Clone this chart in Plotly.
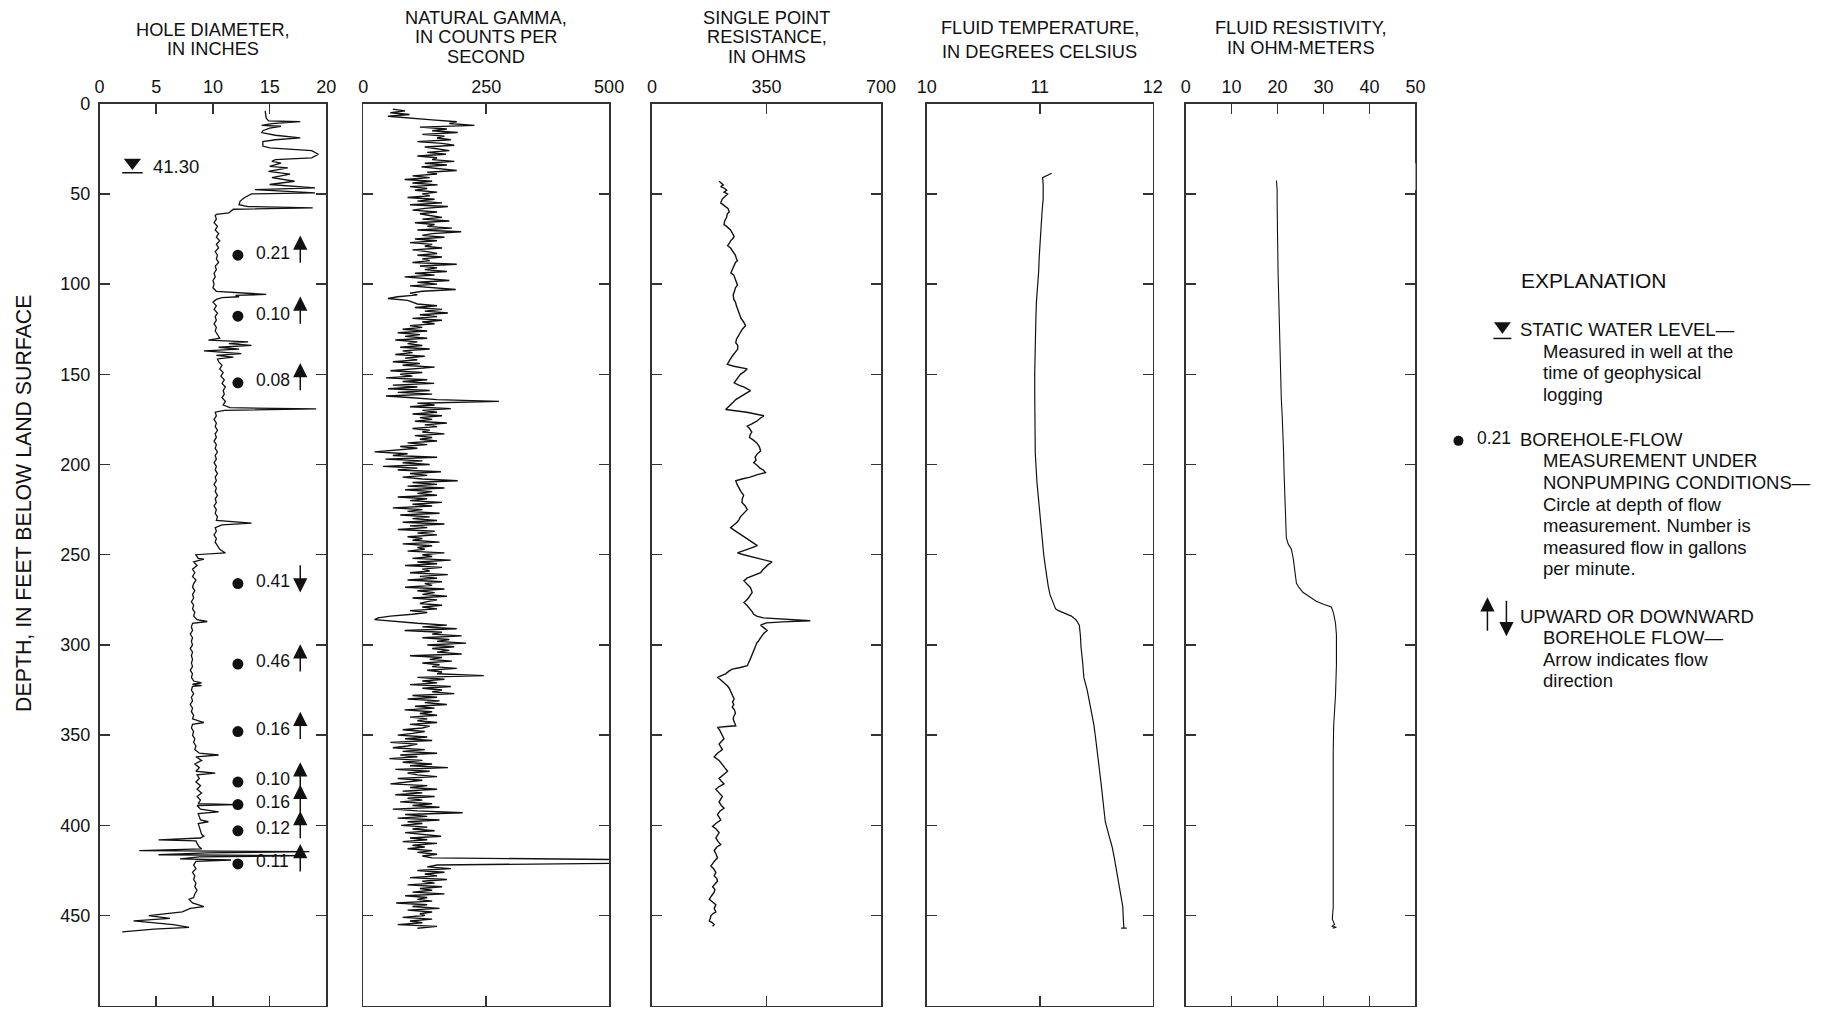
import plotly.graph_objects as go

# ------------------------------------------------------------------ data
depth_ticks = [0, 50, 100, 150, 200, 250, 300, 350, 400, 450, 500]

# (depth ft, hole diameter in)
hole_diameter_log = [
    (4, 14.6), (8, 14.7), (9.5, 14.9), (10, 17.7), (11, 15.2), (12, 14.3), (12.5, 16.0), (13.5, 15.0), (15, 14.4), (16, 14.3),
    (17.5, 15.5), (19, 17.7), (20, 15.5), (21, 14.4), (23.5, 14.4), (24.5, 15.0), (26, 18.7), (28, 19.3), (30, 18.7), (31, 15.5),
    (32, 15.2), (33, 16.0), (34.7, 15.0), (35.6, 16.6), (37.5, 14.9), (39, 16.8), (41, 15.2), (43, 17.2), (44.8, 15.0), (46.7, 19.0),
    (47.6, 13.7), (49.4, 19.0), (50, 13.4), (52, 12.8), (54, 12.4), (56, 12.3), (57, 13.1), (57.7, 18.8), (58.5, 11.8), (60.5, 11.4),
    (61.4, 10.3), (62, 10.2), (64, 10.3), (66, 10.1), (68, 10.4), (70, 10.2), (72, 10.5), (74, 10.3), (76, 10.6), (78, 10.3),
    (80, 10.5), (82, 10.2), (84, 10.4), (86, 10.3), (88, 10.5), (90, 10.2), (92, 10.3), (94, 10.1), (96, 10.2), (98, 10.0),
    (100, 10.1), (102, 10.0), (104, 10.3), (105.3, 13.5), (105.7, 14.7), (106.3, 12.0), (107, 12.3), (107.5, 10.8), (108.5, 10.3), (110, 10.0),
    (112, 10.3), (114, 10.1), (116, 10.4), (118, 10.2), (120, 10.3), (122, 10.1), (124, 10.3), (126, 10.2), (128, 10.4), (130, 10.6),
    (131, 9.6), (132, 13.1), (133, 11.4), (134, 13.4), (135, 10.5), (136, 12.3), (137, 9.2), (137.8, 10.8), (138.5, 12.5), (139.5, 10.3),
    (140.5, 11.8), (141.5, 10.4), (143, 10.5), (145, 10.8), (147, 10.6), (149, 10.9), (151, 10.7), (153, 11.0), (155, 10.8), (157, 11.1),
    (159, 10.9), (161, 11.0), (163, 10.8), (165, 11.1), (167, 10.9), (168.5, 11.5), (169.2, 19.1), (170, 11.0), (171, 10.2), (173, 10.3),
    (175, 10.1), (177, 10.3), (179, 10.2), (181, 10.4), (183, 10.2), (185, 10.3), (187, 10.1), (189, 10.3), (191, 10.2), (193, 10.4),
    (195, 10.2), (197, 10.3), (199, 10.1), (201, 10.3), (203, 10.2), (205, 10.4), (207, 10.2), (209, 10.3), (211, 10.1), (213, 10.3),
    (215, 10.2), (217, 10.4), (219, 10.2), (221, 10.3), (223, 10.1), (225, 10.3), (227, 10.2), (229, 10.4), (231, 10.3), (232.5, 13.4),
    (233.5, 10.8), (235, 10.2), (237, 10.3), (239, 10.1), (241, 10.3), (243, 10.2), (245, 10.4), (247, 10.6), (249, 11.1), (250, 8.5),
    (252, 8.7), (252.5, 9.2), (254, 8.3), (256, 8.6), (258, 8.2), (260, 8.4), (262, 8.2), (264, 8.5), (266, 8.3), (268, 8.2),
    (270, 8.4), (272, 8.2), (274, 8.3), (276, 8.1), (278, 8.3), (280, 8.2), (282, 8.4), (284, 8.3), (286, 8.6), (287, 9.5),
    (288, 8.2), (290, 8.1), (292, 8.2), (294, 8.0), (296, 8.2), (298, 8.1), (300, 8.2), (302, 8.0), (304, 8.2), (306, 8.1),
    (308, 8.2), (310, 8.1), (312, 8.2), (314, 8.0), (316, 8.2), (318, 8.1), (320, 8.3), (321, 9.0), (321.8, 8.2), (322.5, 9.0),
    (323, 8.2), (325, 8.1), (327, 8.3), (329, 8.1), (331, 8.2), (333, 8.0), (335, 8.2), (337, 8.1), (339, 8.3), (341, 8.2),
    (343, 9.2), (344, 8.2), (346, 8.1), (348, 8.3), (350, 8.2), (352, 8.4), (354, 8.3), (356, 8.5), (358, 8.4), (360, 8.8),
    (361, 10.5), (362, 8.5), (364, 9.0), (366, 8.4), (368, 8.8), (370, 8.5), (371, 10.2), (372, 8.6), (374, 8.8), (376, 8.5),
    (378, 8.9), (380, 8.6), (382, 9.0), (384, 8.6), (386, 8.9), (388, 8.7), (388.5, 12.1), (389, 8.6), (391, 8.9), (392.5, 10.5),
    (393.5, 8.7), (395, 8.8), (397, 8.9), (398, 9.6), (399, 8.7), (401, 8.8), (403, 8.9), (405, 9.0), (406, 9.2), (407, 8.9),
    (408, 5.2), (408.6, 8.5), (410, 8.6), (412, 8.8), (413, 9.0), (414, 3.5), (414.6, 18.5), (415.2, 9.5), (416.3, 5.2), (416.8, 18.0),
    (417.5, 8.8), (418.6, 7.1), (419.2, 11.6), (420, 8.5), (422, 8.3), (424, 8.5), (426, 8.2), (428, 8.4), (430, 8.3), (432, 8.5),
    (434, 8.4), (436, 8.6), (438, 8.4), (440, 8.3), (441, 7.9), (443, 8.2), (445, 9.2), (446, 8.0), (448, 7.3), (450, 4.35),
    (451.5, 6.2), (453, 3.0), (455, 6.5), (456.5, 7.9), (457.5, 4.8), (459, 2.0),
]

# natural gamma, counts per second, one reading per foot from 3 ft to 457 ft
gamma_depth_ft = list(range(3, 458))
gamma_cps = [
    60, 85, 55, 94, 50, 88, 140, 190, 175, 226,
    115, 170, 140, 192, 120, 165, 150, 178, 110, 160,
    185, 125, 150, 175, 130, 168, 110, 150, 140, 185,
    125, 170, 118, 160, 190, 130, 150, 100, 135, 84,
    140, 100, 151, 95, 130, 105, 150, 120, 135, 90,
    145, 110, 160, 95, 172, 125, 100, 150, 115, 135,
    160, 120, 175, 105, 145, 130, 180, 110, 199, 140,
    120, 165, 105, 150, 95, 140, 125, 160, 100, 130,
    150, 110, 160, 120, 135, 100, 190, 115, 150, 125,
    170, 105, 145, 84, 130, 175, 110, 150, 95, 140,
    188, 120, 95, 110, 70, 50, 90, 100, 110, 150,
    105, 160, 125, 172, 115, 150, 100, 160, 120, 145,
    95, 120, 80, 130, 70, 115, 85, 130, 65, 110,
    90, 120, 75, 135, 80, 100, 65, 125, 85, 110,
    60, 115, 80, 145, 90, 55, 120, 75, 100, 46,
    130, 80, 144, 60, 110, 50, 135, 70, 140, 46,
    100, 150, 276, 110, 145, 95, 178, 120, 150, 100,
    160, 115, 140, 105, 170, 125, 150, 100, 135, 120,
    165, 105, 140, 115, 150, 90, 130, 75, 110, 60,
    23, 90, 60, 150, 45, 120, 80, 135, 40, 110,
    70, 158, 95, 130, 80, 120, 192, 100, 150, 90,
    165, 85, 140, 110, 150, 70, 130, 95, 160, 100,
    140, 60, 120, 90, 155, 75, 135, 100, 150, 80,
    165, 95, 130, 70, 145, 110, 150, 90, 120, 100,
    155, 80, 140, 110, 125, 90, 165, 120, 140, 100,
    178, 110, 150, 85, 160, 120, 135, 95, 172, 115,
    150, 90, 160, 125, 140, 85, 165, 110, 145, 120,
    170, 100, 150, 130, 115, 160, 120, 150, 95, 130,
    100, 55, 30, 23, 60, 110, 170, 120, 190, 84,
    160, 140, 200, 120, 175, 150, 209, 130, 185, 140,
    175, 150, 200, 95, 160, 135, 180, 120, 155, 140,
    190, 130, 160, 150, 245, 110, 165, 120, 150, 95,
    178, 120, 160, 140, 185, 100, 150, 90, 155, 125,
    170, 105, 145, 84, 140, 115, 150, 95, 130, 110,
    150, 95, 135, 120, 80, 125, 100, 70, 130, 85,
    140, 55, 110, 90, 60, 125, 80, 150, 75, 110,
    53, 120, 80, 140, 95, 172, 65, 135, 90, 110,
    150, 70, 120, 85, 55, 130, 95, 150, 80, 120,
    65, 145, 90, 120, 75, 140, 100, 155, 60, 110,
    202, 85, 130, 70, 155, 90, 120, 77, 130, 100,
    145, 85, 120, 158, 95, 130, 80, 150, 100, 125,
    90, 140, 110, 150, 120, 140, 520, 525, 520, 150,
    130, 178, 110, 165, 125, 150, 95, 170, 120, 145,
    90, 160, 115, 140, 100, 165, 85, 130, 110, 140,
    67, 130, 100, 155, 90, 140, 115, 125, 80, 140,
    95, 120, 70, 150, 110,
]

# (depth ft, single point resistance ohms)
resistance_log = [
    (43, 205), (44, 212), (45, 218), (46, 210), (47, 222), (48, 228), (49, 220), (50, 231), (51, 226), (52, 220),
    (53, 214), (55, 210), (56, 218), (57, 225), (58, 232), (60, 236), (61, 230), (63, 228), (65, 222), (67, 220),
    (68, 228), (70, 240), (72, 245), (73.6, 251), (75, 246), (76, 240), (77.5, 236), (78.7, 231), (80, 240), (82, 248),
    (84, 255), (86, 258), (87, 261), (88, 255), (90, 250), (92, 246), (93.8, 241), (95, 250), (97, 255), (99, 258),
    (100.6, 261), (102, 255), (104, 252), (106, 248), (108.5, 250), (110, 255), (112, 258), (114, 262), (116, 266), (118, 270),
    (119, 272), (121, 280), (123, 286), (125, 276), (127, 270), (129, 262), (130.5, 258), (132.5, 256), (134, 262), (136, 262),
    (138, 252), (140, 245), (142, 238), (144.5, 230), (145.5, 250), (147, 291), (148.5, 282), (150, 270), (152, 262), (154.7, 251),
    (156, 265), (157, 280), (159, 301), (160, 292), (161, 280), (162.5, 268), (164, 256), (165.5, 248), (167, 240), (168.5, 232),
    (169.5, 225), (171, 290), (173, 342), (174.5, 330), (176, 320), (177.5, 305), (178.7, 291), (180, 298), (182, 305), (183.5, 300),
    (185, 298), (186.5, 310), (188, 320), (190, 328), (192.5, 332), (194, 322), (196, 315), (197.5, 318), (199, 311), (200.5, 322),
    (202, 330), (203, 340), (204.5, 347), (205.5, 325), (207, 300), (208, 275), (209, 256), (211, 260), (213, 265), (215, 272),
    (217, 280), (219, 276), (221, 275), (223, 285), (225, 291), (227, 280), (229, 270), (230.5, 266), (232, 260), (233.5, 250),
    (235, 240), (236.5, 252), (238, 265), (239.5, 278), (241, 290), (243, 305), (245, 322), (246.5, 300), (248, 275), (249, 261),
    (250, 280), (251, 300), (252.5, 335), (254, 367), (255.5, 355), (257, 345), (258.5, 338), (260, 332), (261, 316), (262, 300),
    (263, 290), (264.5, 281), (266, 290), (268, 300), (269.5, 304), (271, 306), (272.5, 300), (274, 295), (275.5, 287), (276.5, 281),
    (278, 290), (280, 300), (281.5, 306), (283, 311), (284, 320), (285, 340), (285.8, 420), (286.6, 484), (287.2, 400), (287.8, 350),
    (289, 332), (290.5, 342), (292, 352), (293.5, 342), (295, 335), (296.5, 330), (298, 325), (299, 320), (300.5, 317), (302, 314),
    (304, 310), (306, 305), (308, 300), (310, 295), (311.5, 291), (312.5, 270), (313.4, 245), (314.5, 235), (316, 225), (317, 212),
    (318, 200), (319, 208), (320, 215), (321.5, 222), (322.6, 230), (324, 236), (326, 240), (328, 246), (330, 251), (331.5, 246),
    (333, 250), (334.5, 245), (336, 252), (338, 255), (339.5, 250), (341, 248), (343, 252), (344.8, 256), (345.2, 228), (345.7, 200),
    (347, 206), (349, 212), (350.5, 218), (352, 220), (353.5, 212), (355, 205), (356.5, 210), (358, 215), (360, 200), (362, 190),
    (364, 205), (366, 215), (368, 222), (370, 231), (372, 218), (374, 205), (375.5, 212), (377, 220), (378.5, 205), (380, 195),
    (382, 205), (384, 215), (385.5, 210), (387, 205), (389, 212), (390.5, 220), (392, 208), (394, 200), (395.5, 205), (397, 210),
    (399, 195), (400.6, 185), (402, 196), (404, 205), (405.5, 200), (407, 195), (409, 202), (410.7, 210), (412, 198), (414, 190),
    (416, 196), (418, 200), (420, 190), (422.5, 180), (424, 188), (426, 195), (428, 190), (429.5, 198), (431, 200), (432.5, 192),
    (434, 185), (435.5, 192), (437, 190), (439, 182), (441, 175), (442.5, 185), (444, 195), (446, 190), (448, 195), (449, 186),
    (450, 180), (451.5, 178), (453, 175), (454, 185), (455, 190), (456, 185),
]

# (depth ft, fluid temperature deg C)
temperature_log = [
    (38.6, 11.105), (40.5, 11.04), (41, 11.025), (45, 11.03), (52.7, 11.03), (60, 11.02), (68, 11.01), (76, 11.0),
    (85, 10.995), (93, 10.99), (100, 10.98), (110, 10.97), (120, 10.965), (130, 10.96), (140, 10.955), (150, 10.955),
    (160, 10.955), (177, 10.96), (193.6, 10.96), (210, 10.975), (220, 10.99), (227, 11.0), (235, 11.01), (244, 11.025),
    (250, 11.035), (257, 11.05), (262, 11.06), (267.5, 11.075), (272, 11.09), (277.5, 11.12), (280, 11.14), (281, 11.165),
    (282.5, 11.22), (284, 11.28), (286, 11.32), (289, 11.35), (295, 11.36), (301, 11.365), (310, 11.38), (318, 11.39),
    (325, 11.42), (331, 11.44), (338, 11.46), (344.6, 11.48), (352, 11.495), (361, 11.51), (370, 11.53), (378, 11.545),
    (388, 11.565), (398, 11.58), (405, 11.61), (411.7, 11.64), (418, 11.66), (425, 11.68), (432, 11.70), (438.6, 11.72),
    (445, 11.735), (452, 11.74), (457, 11.745), (457, 11.72), (457, 11.77),
]

# (depth ft, fluid resistivity ohm-m)
resistivity_log = [
    (42.6, 19.75), (47.7, 19.9), (55, 19.9), (62.8, 19.9), (75, 20.0), (93, 20.1), (105, 20.2), (116, 20.3),
    (130, 20.45), (143, 20.6), (153, 20.7), (163, 20.8), (173, 21.0), (183.5, 21.2), (193, 21.3), (203.7, 21.4),
    (213, 21.5), (223.8, 21.6), (232, 21.75), (240.6, 21.9), (244, 22.3), (247, 23.0), (252, 23.4), (257, 23.7),
    (261, 23.9), (265.8, 24.1), (268, 24.6), (270.8, 25.5), (273, 26.8), (275.8, 28.4), (277.5, 30.0), (279, 31.7),
    (282.6, 32.2), (288, 32.6), (294.3, 32.8), (311, 32.8), (327.8, 32.6), (338, 32.4), (344.6, 32.2), (360, 32.1),
    (378, 32.1), (395, 32.1), (411.7, 32.1), (430, 32.1), (445.3, 32.1), (452, 31.9), (454, 32.3), (455, 32.4),
    (456, 31.8), (456.5, 32.8), (457, 32.0),
]

# borehole-flow measurements under nonpumping conditions
flow_depth_ft = [84, 117.8, 154.7, 266, 310.6, 348, 376, 388.5, 403, 421.4]
flow_gpm = ["0.21", "0.10", "0.08", "0.41", "0.46", "0.16", "0.10", "0.16", "0.12", "0.11"]
flow_direction = ["up", "up", "up", "down", "up", "up", "up", "up", "up", "up"]

static_water_level_label = "41.30"

panel_titles = [
    ["HOLE DIAMETER,", "IN INCHES"],
    ["NATURAL GAMMA,", "IN COUNTS PER", "SECOND"],
    ["SINGLE POINT", "RESISTANCE,", "IN OHMS"],
    ["FLUID TEMPERATURE,", "IN DEGREES CELSIUS"],
    ["FLUID RESISTIVITY,", "IN OHM-METERS"],
]
panel_ranges = [[0, 20], [0, 500], [0, 700], [10, 12], [0, 50]]
panel_ticks = [[0, 5, 10, 15, 20], [0, 250, 500], [0, 350, 700], [10, 11, 12], [0, 10, 20, 30, 40, 50]]

y_title = "DEPTH, IN FEET BELOW LAND SURFACE"
explanation_title = "EXPLANATION"
explanation_items = [
    ["STATIC WATER LEVEL\u2014", "Measured in well at the", "time of geophysical", "logging"],
    ["BOREHOLE-FLOW", "MEASUREMENT UNDER", "NONPUMPING CONDITIONS\u2014", "Circle at depth of flow",
     "measurement. Number is", "measured flow in gallons", "per minute."],
    ["UPWARD OR DOWNWARD", "BOREHOLE FLOW\u2014", "Arrow indicates flow", "direction"],
]
explanation_sample_flow = "0.21"

# ------------------------------------------------------------------ layout constants
PAGE_W, PAGE_H = 1829, 1016
BODY = 8                      # default page margin around the figure
W, H = PAGE_W - 2 * BODY, PAGE_H - 2 * BODY
# observed placement of the captured page: picture = A * page + B
AX, BX = 0.987, 8.5
AY, BY = 0.991, 10.3
FONT = "Liberation Sans, Arial, Helvetica, sans-serif"
INK = "#111111"
FRAME = "#333333"


def px(x):
    page = (x - BX) / AX
    return (page - BODY) / W


def py(y):
    page = (y - BY) / AY
    return 1 - (page - BODY) / H


panel_px = [(98, 325), (362, 608), (651, 880), (926, 1152), (1185, 1415)]
plot_top, plot_bottom = 104, 1007
title_y_px = [[30, 49], [18, 37.5, 57], [18, 37.5, 57], [28, 52], [28, 48]]

fig = go.Figure()


def split(log):
    return [p[0] for p in log], [p[1] for p in log]


hd_d, hd_v = split(hole_diameter_log)
rs_d, rs_v = split(resistance_log)
tp_d, tp_v = split(temperature_log)
rv_d, rv_v = split(resistivity_log)

curves = [(hd_v, hd_d), (gamma_cps, gamma_depth_ft), (rs_v, rs_d), (tp_v, tp_d), (rv_v, rv_d)]
line_widths = [1.3, 1.4, 1.4, 1.2, 1.1]

annotations = []
shapes = []
TICKFONT = dict(size=18, color=INK, family=FONT)
TITLE_SIZE = 18.2
BODY_SIZE = 18.5

for i in range(5):
    xa = "x" if i == 0 else f"x{i+1}"
    ya = "y" if i == 0 else f"y{i+1}"
    xv, yv = curves[i]
    fig.add_trace(go.Scatter(x=xv, y=yv, mode="lines", line=dict(color=INK, width=line_widths[i]),
                             xaxis=xa, yaxis=ya, hoverinfo="skip", showlegend=False))
    l, r = panel_px[i]
    fig.layout[("xaxis" if i == 0 else f"xaxis{i+1}")] = dict(
        domain=[px(l), px(r)], range=panel_ranges[i], side="top", anchor=ya,
        tickmode="array", tickvals=panel_ticks[i], ticktext=[str(t) for t in panel_ticks[i]],
        ticks="inside", ticklen=10, tickwidth=1.5, tickcolor=FRAME,
        showline=True, linecolor=FRAME, linewidth=1.6, mirror="ticks",
        showgrid=False, zeroline=False, fixedrange=True, tickfont=TICKFONT,
        ticklabelstandoff=2,
    )
    fig.layout[("yaxis" if i == 0 else f"yaxis{i+1}")] = dict(
        domain=[py(plot_bottom), py(plot_top)], range=[500, 0], anchor=xa,
        tickmode="array", tickvals=depth_ticks, ticktext=[str(t) for t in depth_ticks],
        ticks="inside", ticklen=10, tickwidth=1.5, tickcolor=FRAME,
        showline=True, linecolor=FRAME, linewidth=1.6, mirror="ticks",
        showgrid=False, zeroline=False, fixedrange=True, showticklabels=(i == 0),
        tickfont=TICKFONT, ticklabelstandoff=4,
    )
    for line_text, ty in zip(panel_titles[i], title_y_px[i]):
        annotations.append(dict(text=line_text, x=px((l + r) / 2), y=py(ty), xref="paper", yref="paper",
                                showarrow=False, xanchor="center", yanchor="middle",
                                font=dict(size=TITLE_SIZE, color=INK, family=FONT)))

# y-axis title
annotations.append(dict(text=y_title, x=px(23), y=py(504), xref="paper", yref="paper", textangle=-90,
                        showarrow=False, xanchor="center", yanchor="middle",
                        font=dict(size=21.3, color=INK, family=FONT)))

# flow measurement dots, labels, arrows (hole-diameter panel)
dot_x = 12.2
label_x = 13.6
arrow_x = 17.7
fig.add_trace(go.Scatter(x=[dot_x] * len(flow_depth_ft), y=flow_depth_ft, mode="markers",
                         marker=dict(size=11, color=INK), xaxis="x", yaxis="y",
                         hoverinfo="skip", showlegend=False))
for d, q, direc in zip(flow_depth_ft, flow_gpm, flow_direction):
    annotations.append(dict(text=q, x=label_x, y=d - 1.5, xref="x", yref="y", showarrow=False,
                            xanchor="left", yanchor="middle", font=dict(size=17.5, color=INK, family=FONT)))
    if direc == "up":
        tip, tail = d - 11, d + 5
    else:
        tip, tail = d + 5, d - 11
    annotations.append(dict(text="", x=arrow_x, y=tip, ax=arrow_x, ay=tail, xref="x", yref="y",
                            axref="x", ayref="y", showarrow=True, arrowhead=2, arrowsize=1.9,
                            arrowwidth=1.5, arrowcolor=INK))

# static water level symbol in hole-diameter panel
fig.add_trace(go.Scatter(x=[2.9], y=[32.6], mode="markers",
                         marker=dict(symbol="triangle-down", size=15, color=INK),
                         xaxis="x", yaxis="y", hoverinfo="skip", showlegend=False))
shapes.append(dict(type="line", xref="x", yref="y", x0=2.0, x1=3.8, y0=38.3, y1=38.3,
                   line=dict(color=INK, width=1.5)))
annotations.append(dict(text=static_water_level_label, x=4.5, y=34.6, xref="x", yref="y", showarrow=False,
                        xanchor="left", yanchor="middle", font=dict(size=18.5, color=INK, family=FONT)))

# gap in right frame of resistivity panel
shapes.append(dict(type="line", xref="x5", yref="y5", x0=50, x1=50, y0=33, y1=48,
                   line=dict(color="white", width=4), layer="above"))

# ------------------------------------------------------------------ explanation
annotations.append(dict(text=explanation_title, x=px(1593), y=py(281), xref="paper", yref="paper",
                        showarrow=False, xanchor="center", yanchor="middle",
                        font=dict(size=21, color=INK, family=FONT)))
item_top = [330, 440, 617]
line_gap = 21.6
for lines, y0 in zip(explanation_items, item_top):
    for k, t in enumerate(lines):
        annotations.append(dict(text=t, x=px(1518 if k == 0 else 1541), y=py(y0 + k * line_gap),
                                xref="paper", yref="paper", showarrow=False, xanchor="left",
                                yanchor="middle", font=dict(size=BODY_SIZE, color=INK, family=FONT)))

# water level symbol
tx0, tx1, tt, tb = 1494, 1510, 323, 334
shapes.append(dict(type="path", xref="paper", yref="paper",
                   path=f"M {px(tx0)},{py(tt)} L {px(tx1)},{py(tt)} L {px((tx0 + tx1) / 2)},{py(tb)} Z",
                   fillcolor=INK, line=dict(color=INK, width=0.5)))
shapes.append(dict(type="line", xref="paper", yref="paper", x0=px(1493), x1=px(1511), y0=py(339), y1=py(339),
                   line=dict(color=INK, width=1.5)))
# flow dot
shapes.append(dict(type="circle", xref="paper", yref="paper", x0=px(1453), x1=px(1463),
                   y0=py(446.5), y1=py(436.5), fillcolor=INK, line=dict(color=INK, width=0)))
annotations.append(dict(text=explanation_sample_flow, x=px(1475), y=py(439), xref="paper", yref="paper",
                        showarrow=False, xanchor="left", yanchor="middle",
                        font=dict(size=17.5, color=INK, family=FONT)))
# up / down arrows
annotations.append(dict(text="", x=px(1487), y=py(598), ax=0, ay=35, xref="paper", yref="paper",
                        showarrow=True, arrowhead=2, arrowsize=1.9, arrowwidth=1.5, arrowcolor=INK))
annotations.append(dict(text="", x=px(1506), y=py(637), ax=0, ay=-37, xref="paper", yref="paper",
                        showarrow=True, arrowhead=2, arrowsize=1.9, arrowwidth=1.5, arrowcolor=INK))

fig.update_layout(
    width=W, height=H, margin=dict(l=0, r=0, t=0, b=0, pad=0),
    paper_bgcolor="white", plot_bgcolor="white",
    font=dict(family=FONT, color=INK, size=17.5),
    annotations=annotations, shapes=shapes, showlegend=False, hovermode=False,
)

fig.write_html("out.html", config={"displayModeBar": False, "staticPlot": True})
